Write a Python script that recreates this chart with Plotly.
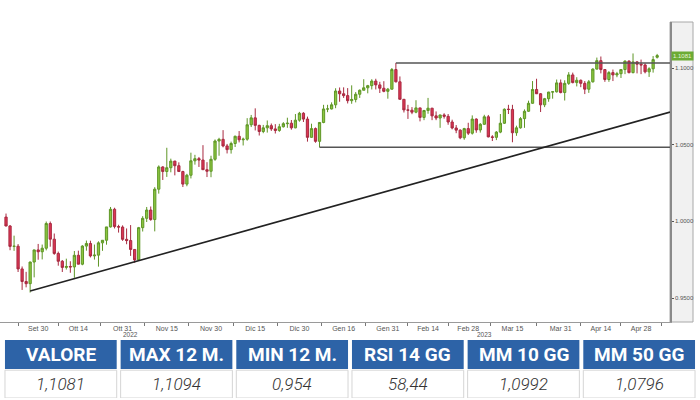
import plotly.graph_objects as go

# ---------------- data (EUR/USD daily candles) ----------------
dates = [
    "2022-09-20", "2022-09-21", "2022-09-22", "2022-09-23", "2022-09-26", "2022-09-27", "2022-09-28", "2022-09-29", "2022-09-30",
    "2022-10-03", "2022-10-04", "2022-10-05", "2022-10-06", "2022-10-07", "2022-10-10", "2022-10-11", "2022-10-12", "2022-10-13",
    "2022-10-14", "2022-10-17", "2022-10-18", "2022-10-19", "2022-10-20", "2022-10-21", "2022-10-24", "2022-10-25", "2022-10-26",
    "2022-10-27", "2022-10-28", "2022-10-31",
    "2022-11-01", "2022-11-02", "2022-11-03", "2022-11-04", "2022-11-07", "2022-11-08", "2022-11-09", "2022-11-10", "2022-11-11",
    "2022-11-14", "2022-11-15", "2022-11-16", "2022-11-17", "2022-11-18", "2022-11-21", "2022-11-22", "2022-11-23", "2022-11-24",
    "2022-11-25", "2022-11-28", "2022-11-29", "2022-11-30",
    "2022-12-01", "2022-12-02", "2022-12-05", "2022-12-06", "2022-12-07", "2022-12-08", "2022-12-09", "2022-12-12", "2022-12-13",
    "2022-12-14", "2022-12-15", "2022-12-16", "2022-12-19", "2022-12-20", "2022-12-21", "2022-12-22", "2022-12-23", "2022-12-26",
    "2022-12-27", "2022-12-28", "2022-12-29", "2022-12-30",
    "2023-01-02", "2023-01-03", "2023-01-04", "2023-01-05", "2023-01-06", "2023-01-09", "2023-01-10", "2023-01-11", "2023-01-12",
    "2023-01-13", "2023-01-16", "2023-01-17", "2023-01-18", "2023-01-19", "2023-01-20", "2023-01-23", "2023-01-24", "2023-01-25",
    "2023-01-26", "2023-01-27", "2023-01-30", "2023-01-31",
    "2023-02-01", "2023-02-02", "2023-02-03", "2023-02-06", "2023-02-07", "2023-02-08", "2023-02-09", "2023-02-10", "2023-02-13",
    "2023-02-14", "2023-02-15", "2023-02-16", "2023-02-17", "2023-02-20", "2023-02-21", "2023-02-22", "2023-02-23", "2023-02-24",
    "2023-02-27", "2023-02-28",
    "2023-03-01", "2023-03-02", "2023-03-03", "2023-03-06", "2023-03-07", "2023-03-08", "2023-03-09", "2023-03-10", "2023-03-13",
    "2023-03-14", "2023-03-15", "2023-03-16", "2023-03-17", "2023-03-20", "2023-03-21", "2023-03-22", "2023-03-23", "2023-03-24",
    "2023-03-27", "2023-03-28", "2023-03-29", "2023-03-30", "2023-03-31",
    "2023-04-03", "2023-04-04", "2023-04-05", "2023-04-06", "2023-04-07", "2023-04-10", "2023-04-11", "2023-04-12", "2023-04-13",
    "2023-04-14", "2023-04-17", "2023-04-18", "2023-04-19", "2023-04-20", "2023-04-21", "2023-04-24", "2023-04-25", "2023-04-26",
    "2023-04-27", "2023-04-28",
    "2023-05-01", "2023-05-02", "2023-05-03", "2023-05-04",
]

open_ = [
    1.0028, 0.9970, 0.9837, 0.9838, 0.9690, 0.9608, 0.9594, 0.9735, 0.9814,
    0.9802, 0.9825, 0.9986, 0.9884, 0.9791, 0.9740, 0.9700, 0.9706, 0.9703,
    0.9779, 0.9721, 0.9839, 0.9856, 0.9775, 0.9780, 0.9860, 0.9877, 0.9964,
    1.0079, 0.9966, 0.9963,
    0.9883, 0.9875, 0.9817, 0.9749, 0.9959, 1.0020, 1.0074, 1.0012, 1.0210,
    1.0355, 1.0325, 1.0350, 1.0393, 1.0363, 1.0325, 1.0243, 1.0301, 1.0395,
    1.0409, 1.0400, 1.0337, 1.0327,
    1.0405, 1.0524, 1.0535, 1.0492, 1.0468, 1.0508, 1.0555, 1.0532, 1.0536,
    1.0630, 1.0675, 1.0626, 1.0586, 1.0610, 1.0624, 1.0603, 1.0593, 1.0617,
    1.0637, 1.0640, 1.0610, 1.0660,
    1.0705, 1.0667, 1.0548, 1.0605, 1.0522, 1.0645, 1.0733, 1.0733, 1.0760,
    1.0850, 1.0832, 1.0820, 1.0787, 1.0795, 1.0829, 1.0855, 1.0871, 1.0885,
    1.0915, 1.0890, 1.0868, 1.0848,
    1.0862, 1.0990, 1.0910, 1.0796, 1.0727, 1.0725, 1.0712, 1.0740, 1.0678,
    1.0723, 1.0738, 1.0688, 1.0674, 1.0694, 1.0685, 1.0648, 1.0609, 1.0595,
    1.0545, 1.0605,
    1.0575, 1.0667, 1.0596, 1.0633, 1.0682, 1.0551, 1.0548, 1.0582, 1.0640,
    1.0731, 1.0730, 1.0578, 1.0610, 1.0670, 1.0718, 1.0770, 1.0860, 1.0832,
    1.0760, 1.0800, 1.0843, 1.0845, 1.0903,
    1.0840, 1.0900, 1.0955, 1.0905, 1.0920, 1.0900, 1.0862, 1.0910, 1.0993,
    1.1048, 1.0990, 1.0925, 1.0970, 1.0955, 1.0963, 1.0990, 1.1045, 1.0970,
    1.1040, 1.1025,
    1.1020, 1.0975, 1.0995, 1.1070,
]

high = [
    1.0051, 0.9976, 0.9907, 0.9852, 0.9706, 0.9671, 0.9737, 0.9815, 0.9853,
    0.9849, 0.9999, 0.9999, 0.9921, 0.9803, 0.9748, 0.9757, 0.9740, 0.9807,
    0.9809, 0.9845, 0.9875, 0.9874, 0.9849, 0.9870, 0.9878, 0.9964, 1.0094,
    1.0089, 0.9978, 0.9974,
    0.9954, 0.9976, 0.9818, 0.9964, 1.0034, 1.0094, 1.0097, 1.0223, 1.0365,
    1.0360, 1.0480, 1.0409, 1.0395, 1.0385, 1.0330, 1.0310, 1.0448, 1.0434,
    1.0420, 1.0497, 1.0386, 1.0428,
    1.0534, 1.0545, 1.0595, 1.0505, 1.0520, 1.0559, 1.0589, 1.0546, 1.0673,
    1.0694, 1.0737, 1.0630, 1.0629, 1.0658, 1.0638, 1.0634, 1.0636, 1.0647,
    1.0676, 1.0661, 1.0700, 1.0714,
    1.0712, 1.0683, 1.0637, 1.0612, 1.0647, 1.0760, 1.0760, 1.0776, 1.0868,
    1.0873, 1.0874, 1.0869, 1.0887, 1.0843, 1.0860, 1.0927, 1.0890, 1.0927,
    1.0930, 1.0910, 1.0914, 1.0870,
    1.1000, 1.1033, 1.0945, 1.0798, 1.0760, 1.0745, 1.0790, 1.0740, 1.0727,
    1.0805, 1.0740, 1.0717, 1.0695, 1.0705, 1.0700, 1.0663, 1.0628, 1.0600,
    1.0610, 1.0643,
    1.0691, 1.0672, 1.0641, 1.0695, 1.0694, 1.0562, 1.0589, 1.0700, 1.0737,
    1.0760, 1.0760, 1.0624, 1.0680, 1.0730, 1.0787, 1.0915, 1.0930, 1.0837,
    1.0805, 1.0845, 1.0850, 1.0925, 1.0925,
    1.0920, 1.0973, 1.0970, 1.0940, 1.0925, 1.0915, 1.0922, 1.0998, 1.1068,
    1.1075, 1.0990, 1.0980, 1.0990, 1.0975, 1.0990, 1.1050, 1.1050, 1.1095,
    1.1045, 1.1055,
    1.1030, 1.1005, 1.1078, 1.1092,
]

low = [
    0.9968, 0.9812, 0.9808, 0.9670, 0.9553, 0.9570, 0.9536, 0.9635, 0.9750,
    0.9752, 0.9811, 0.9835, 0.9782, 0.9711, 0.9670, 0.9686, 0.9665, 0.9632,
    0.9720, 0.9714, 0.9809, 0.9765, 0.9751, 0.9705, 0.9808, 0.9848, 0.9960,
    0.9954, 0.9927, 0.9873,
    0.9851, 0.9775, 0.9730, 0.9742, 0.9934, 0.9996, 1.0004, 0.9935, 1.0181,
    1.0270, 1.0290, 1.0320, 1.0300, 1.0326, 1.0224, 1.0229, 1.0280, 1.0370,
    1.0355, 1.0335, 1.0289, 1.0288,
    1.0395, 1.0428, 1.0483, 1.0443, 1.0442, 1.0485, 1.0515, 1.0495, 1.0526,
    1.0615, 1.0593, 1.0560, 1.0575, 1.0579, 1.0590, 1.0573, 1.0584, 1.0612,
    1.0610, 1.0598, 1.0607, 1.0650,
    1.0648, 1.0520, 1.0546, 1.0513, 1.0483, 1.0640, 1.0712, 1.0730, 1.0738,
    1.0780, 1.0805, 1.0769, 1.0767, 1.0776, 1.0805, 1.0855, 1.0835, 1.0860,
    1.0860, 1.0837, 1.0842, 1.0800,
    1.0860, 1.0906, 1.0796, 1.0710, 1.0668, 1.0699, 1.0705, 1.0652, 1.0660,
    1.0702, 1.0660, 1.0660, 1.0610, 1.0670, 1.0630, 1.0600, 1.0575, 1.0536,
    1.0532, 1.0563,
    1.0566, 1.0578, 1.0579, 1.0630, 1.0548, 1.0524, 1.0530, 1.0575, 1.0635,
    1.0700, 1.0516, 1.0558, 1.0605, 1.0610, 1.0714, 1.0767, 1.0843, 1.0713,
    1.0745, 1.0780, 1.0800, 1.0840, 1.0835,
    1.0788, 1.0890, 1.0900, 1.0880, 1.0875, 1.0830, 1.0838, 1.0905, 1.0990,
    1.0965, 1.0910, 1.0910, 1.0915, 1.0940, 1.0935, 1.0960, 1.0965, 1.0965,
    1.0965, 1.0960,
    1.0965, 1.0942, 1.0970, 1.1062,
]

close = [
    0.9970, 0.9837, 0.9838, 0.9690, 0.9608, 0.9594, 0.9735, 0.9814, 0.9802,
    0.9825, 0.9986, 0.9884, 0.9791, 0.9740, 0.9700, 0.9706, 0.9703, 0.9779,
    0.9721, 0.9839, 0.9856, 0.9775, 0.9780, 0.9860, 0.9877, 0.9964, 1.0079,
    0.9966, 0.9963, 0.9883,
    0.9875, 0.9817, 0.9749, 0.9959, 1.0020, 1.0074, 1.0012, 1.0210, 1.0355,
    1.0325, 1.0350, 1.0393, 1.0363, 1.0325, 1.0243, 1.0301, 1.0395, 1.0409,
    1.0400, 1.0337, 1.0327, 1.0405,
    1.0524, 1.0535, 1.0492, 1.0468, 1.0508, 1.0555, 1.0532, 1.0536, 1.0630,
    1.0675, 1.0626, 1.0586, 1.0610, 1.0624, 1.0603, 1.0593, 1.0617, 1.0637,
    1.0640, 1.0610, 1.0660, 1.0705,
    1.0667, 1.0548, 1.0605, 1.0522, 1.0645, 1.0733, 1.0733, 1.0760, 1.0850,
    1.0832, 1.0820, 1.0787, 1.0795, 1.0829, 1.0855, 1.0871, 1.0885, 1.0915,
    1.0890, 1.0868, 1.0848, 1.0862,
    1.0990, 1.0910, 1.0796, 1.0727, 1.0725, 1.0712, 1.0740, 1.0678, 1.0723,
    1.0738, 1.0688, 1.0674, 1.0694, 1.0685, 1.0648, 1.0609, 1.0595, 1.0545,
    1.0605, 1.0575,
    1.0667, 1.0596, 1.0633, 1.0682, 1.0551, 1.0548, 1.0582, 1.0640, 1.0731,
    1.0730, 1.0578, 1.0610, 1.0670, 1.0718, 1.0770, 1.0860, 1.0832, 1.0760,
    1.0800, 1.0843, 1.0845, 1.0903, 1.0840,
    1.0900, 1.0955, 1.0905, 1.0920, 1.0900, 1.0862, 1.0910, 1.0993, 1.1048,
    1.0990, 1.0925, 1.0970, 1.0955, 1.0963, 1.0990, 1.1045, 1.0970, 1.1040,
    1.1025, 1.1020,
    1.0975, 1.0995, 1.1055, 1.1081,
]

tick_dates = ["2022-09-30", "2022-10-14", "2022-10-31", "2022-11-15", "2022-11-30", "2022-12-15", "2022-12-30",
              "2023-01-16", "2023-01-31", "2023-02-14", "2023-02-28", "2023-03-15", "2023-03-31", "2023-04-14", "2023-04-28"]
tick_text = ["Set 30", "Ott 14", "Ott 31", "Nov 15", "Nov 30", "Dic 15", "Dic 30",
             "Gen 16", "Gen 31", "Feb 14", "Feb 28", "Mar 15", "Mar 31", "Apr 14", "Apr 28"]
year_labels = ["2022", "2023"]
year_label_dates = ["2022-11-02", "2023-03-06"]

y_tickvals = [0.95, 1.00, 1.05, 1.10]
y_ticktext = ["0.9500", "1.0000", "1.0500", "1.1000"]

# technical levels drawn on the chart
resistance_level = 1.1033
resistance_from = "2023-02-02"
support_level = 1.0483
support_from = "2023-01-06"
trend_dates = ["2022-09-28", "2023-04-28"]
trend_values = [0.9546, 1.0660]

last_price = 1.1081
last_price_text = "1.1081"

table_headers = ["VALORE", "MAX 12 M.", "MIN 12 M.", "RSI 14 GG", "MM 10 GG", "MM 50 GG"]
table_values = ["1,1081", "1,1094", "0,954", "58,44", "1,0992", "1,0796"]

# ---------------- figure ----------------
x_idx = list(range(len(dates)))
x_range = [-1.5, 165.2]
y_range = [0.9344, 1.1300]

fig = go.Figure()

fig.add_trace(go.Candlestick(
    x=x_idx, open=open_, high=high, low=low, close=close,
    increasing=dict(line=dict(color="#5e9626", width=1), fillcolor="#8cc63f"),
    decreasing=dict(line=dict(color="#a82a40", width=1), fillcolor="#dc3553"),
    whiskerwidth=0, showlegend=False, hoverinfo="skip",
))

# resistance / support horizontal lines
r0 = dates.index(resistance_from)
fig.add_trace(go.Scatter(x=[r0, x_range[1]], y=[resistance_level, resistance_level], mode="lines",
                         line=dict(color="#555555", width=1.4), showlegend=False, hoverinfo="skip"))
s0 = dates.index(support_from)
fig.add_trace(go.Scatter(x=[s0, x_range[1]], y=[support_level, support_level], mode="lines",
                         line=dict(color="#555555", width=1.4), showlegend=False, hoverinfo="skip"))

# rising trend line (extended to the right edge)
t0, t1 = dates.index(trend_dates[0]), dates.index(trend_dates[1])
slope = (trend_values[1] - trend_values[0]) / (t1 - t0)
fig.add_trace(go.Scatter(x=[t0, x_range[1]],
                         y=[trend_values[0], trend_values[0] + slope * (x_range[1] - t0)],
                         mode="lines", line=dict(color="#222222", width=1.6),
                         showlegend=False, hoverinfo="skip"))

tickvals = [dates.index(d) for d in tick_dates]
minor_vals = [tickvals[0] - (tickvals[1] - tickvals[0]) / 2] + \
             [(a + b) / 2 for a, b in zip(tickvals[:-1], tickvals[1:])] + \
             [tickvals[-1] + (tickvals[-1] - tickvals[-2]) / 2]

x_dom_right = 670 / 700
y_dom = [78 / 400, 378 / 400]
small_font = "Liberation Sans, Arial, sans-serif"
font_tbl = "Roboto, Liberation Sans, sans-serif"

# ---------------- summary table (drawn on its own hidden axes x2/y2) ----------------
n_cols = len(table_headers)
gap = 0.017  # half gap between cells, in column units
shapes = [
    dict(type="rect", xref="paper", yref="paper", x0=x_dom_right, x1=693 / 700,
         y0=y_dom[0], y1=y_dom[1], fillcolor="#f1f1f1", line=dict(color="#a8a8a8", width=1),
         layer="below"),
]
annotations = []
for i, (h, v) in enumerate(zip(table_headers, table_values)):
    shapes.append(dict(type="rect", xref="x2", yref="y2", x0=i + gap, x1=i + 1 - gap, y0=1.0, y1=2.0,
                       fillcolor="#2d63a7", line=dict(width=0), layer="above"))
    shapes.append(dict(type="rect", xref="x2", yref="y2", x0=i + gap, x1=i + 1 - gap, y0=0.0, y1=0.96,
                       fillcolor="white", line=dict(color="#d5d5d5", width=1), layer="above"))
    annotations.append(dict(x=i + 0.5, y=1.5, xref="x2", yref="y2", text="<b>" + h + "</b>",
                            showarrow=False, xanchor="center", yanchor="middle",
                            font=dict(family=font_tbl, size=19, color="white")))
    annotations.append(dict(x=i + 0.5, y=0.48, xref="x2", yref="y2", text=v,
                            showarrow=False, xanchor="center", yanchor="middle",
                            font=dict(family=font_tbl, size=17, color="#333333",
                                      style="italic", weight=300)))

annotations.append(dict(x=x_dom_right + 1 / 700, y=last_price, xref="paper", yref="y", text=last_price_text,
                        showarrow=False, xanchor="left", yanchor="middle", bgcolor="#6cab35",
                        font=dict(family=small_font, size=6, color="#e8f5d8"), borderpad=1))
for t, d in zip(year_labels, year_label_dates):
    annotations.append(dict(x=dates.index(d), y=y_dom[0], xref="x", yref="paper", yshift=-12, text=t,
                            showarrow=False, xanchor="center", yanchor="middle",
                            font=dict(family=small_font, size=6.5, color="#555555")))

fig.update_layout(
    width=700, height=400,
    margin=dict(l=0, r=0, t=0, b=0),
    paper_bgcolor="white", plot_bgcolor="white",
    boxgap=0.2,
    xaxis=dict(domain=[0, x_dom_right], range=x_range, rangeslider=dict(visible=False),
               tickmode="array", tickvals=tickvals, ticktext=tick_text,
               ticks="", showgrid=False, zeroline=False,
               showline=True, linecolor="#9a9a9a", linewidth=1,
               tickfont=dict(family=small_font, size=7, color="#555555"),
               minor=dict(tickmode="array", tickvals=minor_vals, ticks="outside", ticklen=3,
                          tickcolor="#777777", showgrid=False),
               fixedrange=True),
    yaxis=dict(domain=y_dom, range=y_range, side="right",
               tickmode="array", tickvals=y_tickvals, ticktext=y_ticktext,
               ticks="outside", ticklen=2, tickcolor="#555555",
               showgrid=False, zeroline=False,
               showline=True, linecolor="#8a8a8a", linewidth=1.5,
               tickfont=dict(family=small_font, size=6, color="#555555"),
               fixedrange=True),
    xaxis2=dict(domain=[3 / 700, 697 / 700], range=[0, n_cols], visible=False, fixedrange=True,
                anchor="y2"),
    yaxis2=dict(domain=[2 / 400, 60 / 400], range=[0, 2], visible=False, fixedrange=True,
                anchor="x2"),
    shapes=shapes,
    annotations=annotations,
)

fig.write_html("out.html", config={"displayModeBar": False},
               post_script="document.body.style.margin='0px';")
